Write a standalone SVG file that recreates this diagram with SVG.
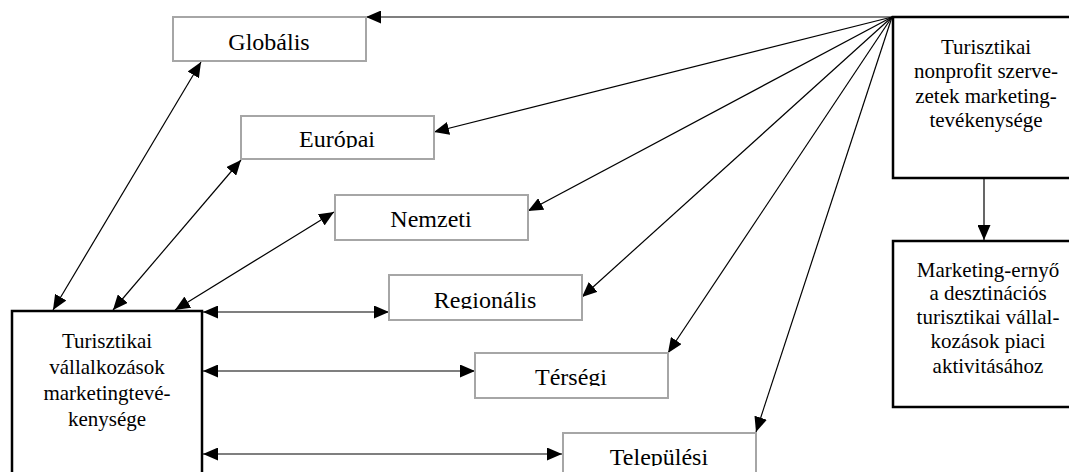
<svg xmlns="http://www.w3.org/2000/svg" width="1069" height="472" viewBox="0 0 1069 472">
<style>
.lvl{fill:#fff;stroke:#a6a6a6;stroke-width:2}
.main{fill:#fff;stroke:#000;stroke-width:2.5}
.lbl{font-family:"Liberation Serif","Times New Roman",serif;font-size:24px;fill:#000;text-anchor:middle}
.txt{font-family:"Liberation Serif","Times New Roman",serif;font-size:21px;fill:#000;text-anchor:middle}
.c{stroke:#000;stroke-width:1.2;fill:none}
.one{marker-end:url(#ah)}
.two{marker-start:url(#ah);marker-end:url(#ah)}
</style>
<defs>
<marker id="ah" viewBox="0 0 15 13" markerWidth="15" markerHeight="13" refX="15" refY="6.5" orient="auto-start-reverse" markerUnits="userSpaceOnUse">
<path d="M0,0 L15,6.5 L0,13 z" fill="#000"/>
</marker>
<clipPath id="cG"><rect x="173" y="17" width="193" height="33"/></clipPath>
<clipPath id="cE"><rect x="241" y="116" width="193" height="32"/></clipPath>
<clipPath id="cN"><rect x="335" y="195" width="193" height="33"/></clipPath>
<clipPath id="cR"><rect x="389" y="275" width="193" height="34"/></clipPath>
<clipPath id="cT"><rect x="475" y="353" width="193" height="33"/></clipPath>
<clipPath id="cL"><rect x="563" y="433" width="193" height="33"/></clipPath>
</defs>
<rect width="1069" height="472" fill="#fff"/>
<g id="connectors">
<line class="c one" x1="892" y1="17" x2="366" y2="17"/>
<line class="c one" x1="892" y1="17" x2="434" y2="132"/>
<line class="c one" x1="892" y1="17" x2="528" y2="211"/>
<line class="c one" x1="892" y1="17" x2="582" y2="297"/>
<line class="c one" x1="892" y1="17" x2="668" y2="353"/>
<line class="c one" x1="892" y1="17" x2="756" y2="432"/>
<line class="c one" x1="984" y1="179" x2="984" y2="240"/>
<line class="c two" x1="53" y1="310" x2="201" y2="62"/>
<line class="c two" x1="113" y1="310" x2="241" y2="160"/>
<line class="c two" x1="175" y1="310" x2="334" y2="212"/>
<line class="c two" x1="203" y1="312" x2="389" y2="312"/>
<line class="c two" x1="203" y1="371" x2="475" y2="371"/>
<line class="c two" x1="203" y1="454" x2="562" y2="454"/>
</g>
<g id="globalis"><rect class="lvl" x="173" y="17" width="193" height="44"/><text class="lbl" x="269" y="50" clip-path="url(#cG)">Globális</text></g>
<g id="europai"><rect class="lvl" x="241" y="116" width="193" height="43"/><text class="lbl" x="337" y="147" clip-path="url(#cE)">Európai</text></g>
<g id="nemzeti"><rect class="lvl" x="335" y="195" width="193" height="45"/><text class="lbl" x="431" y="227" clip-path="url(#cN)">Nemzeti</text></g>
<g id="regionalis"><rect class="lvl" x="389" y="275" width="193" height="45"/><text class="lbl" x="485" y="308" clip-path="url(#cR)">Regionális</text></g>
<g id="tersegi"><rect class="lvl" x="475" y="353" width="193" height="45"/><text class="lbl" x="571" y="385" clip-path="url(#cT)">Térségi</text></g>
<g id="telepulesi"><rect class="lvl" x="563" y="433" width="193" height="60"/><text class="lbl" x="659" y="465" clip-path="url(#cL)">Települési</text></g>
<g id="vallalkozasok"><rect class="main" x="12" y="311" width="190" height="200"/>
<text class="txt" x="107" y="348">Turisztikai</text>
<text class="txt" x="107" y="374">vállalkozások</text>
<text class="txt" x="107" y="400">marketingtevé-</text>
<text class="txt" x="107" y="426">kenysége</text></g>
<g id="nonprofit"><rect class="main" x="893" y="17" width="190" height="161"/>
<text class="txt" x="986" y="54">Turisztikai</text>
<text class="txt" x="986" y="78">nonprofit szerve-</text>
<text class="txt" x="986" y="103">zetek marketing-</text>
<text class="txt" x="986" y="127">tevékenysége</text></g>
<g id="ernyo"><rect class="main" x="893" y="241" width="190" height="166"/>
<text class="txt" x="988" y="277">Marketing-ernyő</text>
<text class="txt" x="988" y="300">a desztinációs</text>
<text class="txt" x="988" y="324">turisztikai vállal-</text>
<text class="txt" x="988" y="348">kozások piaci</text>
<text class="txt" x="988" y="373">aktivitásához</text></g>
</svg>
